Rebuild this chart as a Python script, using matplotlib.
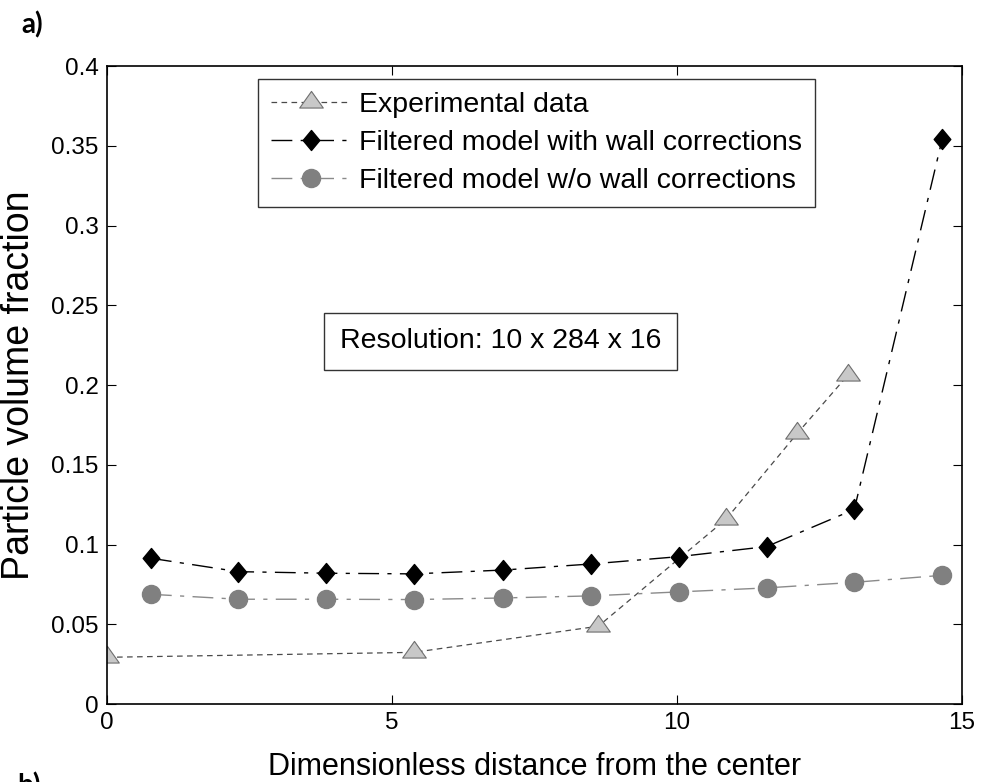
import matplotlib
matplotlib.use("Agg")
import matplotlib.pyplot as plt
import numpy as np
from matplotlib.path import Path

plt.rcParams["font.family"] = ["Liberation Sans", "DejaVu Sans"]

# radial positions (dimensionless) and volume fractions
x_exp = [0.0, 5.38, 8.62, 10.86, 12.11, 13.0]
phi_exp = [0.0293, 0.0324, 0.0488, 0.1159, 0.1697, 0.2063]

x_model = [0.77, 2.30, 3.85, 5.38, 6.95, 8.49, 10.03, 11.57, 13.11, 14.65]
phi_wall = [0.0914, 0.083, 0.082, 0.0816, 0.084, 0.0878, 0.0924, 0.0987, 0.122, 0.354]
phi_nowall = [0.0688, 0.0657, 0.0657, 0.0655, 0.0665, 0.0678, 0.0703, 0.0728, 0.0763, 0.0807]

labels = ["Experimental data",
          "Filtered model with wall corrections",
          "Filtered model w/o wall corrections"]

# triangle centred on its centroid, diamond a bit narrower than tall
tri = Path([(-1, -0.47), (1, -0.47), (0, 0.94), (-1, -0.47)],
           [Path.MOVETO, Path.LINETO, Path.LINETO, Path.CLOSEPOLY])
dia = Path([(0, 1), (0.83, 0), (0, -1), (-0.83, 0), (0, 1)],
           [Path.MOVETO, Path.LINETO, Path.LINETO, Path.LINETO, Path.CLOSEPOLY])

fig = plt.figure(figsize=(9.81, 7.82), dpi=100)
ax = fig.add_axes([0.1091, 0.0997, 0.8716, 0.8159])

ax.plot(x_exp, phi_exp, color="#4a4a4a", lw=0.9, linestyle=(0, (4.5, 3.5)),
        marker=tri, markersize=17, markerfacecolor="#c8c8c8",
        markeredgecolor="#6e6e6e", markeredgewidth=0.8, label=labels[0])
ax.plot(x_model, phi_wall, color="black", lw=1.0, linestyle=(0, (15, 6, 3, 6)),
        marker=dia, markersize=14.4, markerfacecolor="black",
        markeredgecolor="black", label=labels[1])
ax.plot(x_model, phi_nowall, color="#8a8a8a", lw=1.0, linestyle=(0, (15, 6, 3, 6)),
        marker="o", markersize=13, markerfacecolor="#808080",
        markeredgecolor="#808080", label=labels[2])

ax.set_xlim(0, 15)
ax.set_ylim(0, 0.4)
ax.set_xticks([0, 5, 10, 15])
ax.set_yticks(np.arange(0, 0.41, 0.05))
ax.set_yticklabels(["0", "0.05", "0.1", "0.15", "0.2", "0.25", "0.3", "0.35", "0.4"])
ax.tick_params(direction="in", length=6.5, width=0.8, top=True, right=True,
               labelsize=17.5, pad=6)
for s in ax.spines.values():
    s.set_linewidth(1.2)

ax.set_xlabel("Dimensionless distance from the center", fontsize=22, labelpad=13)
ax.set_ylabel("Particle volume fraction", fontsize=27, labelpad=10)

leg = ax.legend(loc="upper left", bbox_to_anchor=(0.1766, 0.9796), fontsize=20.5,
                handlelength=2.8, handletextpad=0.3, labelspacing=0.42,
                borderpad=0.45, borderaxespad=0, fancybox=False, framealpha=1)
leg.get_frame().set_edgecolor("#333333")
leg.get_frame().set_linewidth(1.0)

ax.text(6.90, 0.2274, "Resolution: 10 x 284 x 16", fontsize=20.5, ha="center",
        va="center", bbox=dict(boxstyle="square,pad=0.55", fc="white",
                                ec="#333333", lw=1.0))

fig.text(21 / 981, 1 - 25 / 782, "a)", fontsize=20, fontweight="bold",
         family="Lato", va="center", ha="left")
fig.text(17 / 981, 1 - 772 / 782, "b)", fontsize=20, fontweight="bold",
         family="Lato", va="top", ha="left")

fig.savefig("out.png", dpi=100, facecolor="white")
